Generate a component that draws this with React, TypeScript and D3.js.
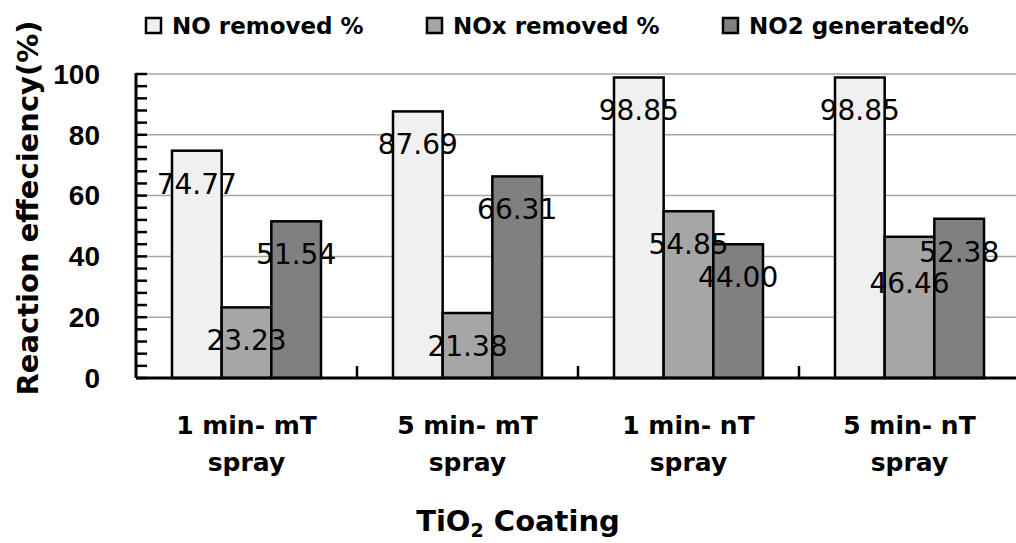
import React from "react";
import * as d3 from "d3";

// Coating treatments along the x axis (two lines per label)
const categories = ["1 min- mT|spray", "5 min- mT|spray", "1 min- nT|spray", "5 min- nT|spray"];
const seriesNames = ["NO removed %", "NOx removed %", "NO2 generated%"];
const noRemoved = [74.77, 87.69, 98.85, 98.85];
const noxRemoved = [23.23, 21.38, 54.85, 46.46];
const no2Generated = [51.54, 66.31, 44.0, 52.38];
const yTicks = [0, 20, 40, 60, 80, 100];

const seriesValues = [noRemoved, noxRemoved, no2Generated];
const fills = ["#f0f0f0", "#a6a6a6", "#808080"];

const W = 1016;
const H = 543;
const left = 136;
const right = 1020;
const top = 74;
const bottom = 378;

export default function App() {
  const x0 = d3.scaleBand<string>().domain(categories).range([left, right]).padding(0);
  const x1 = d3
    .scaleBand<string>()
    .domain(seriesNames)
    .range([36, x0.bandwidth() - 36])
    .padding(0);
  const y = d3.scaleLinear().domain([0, 100]).range([bottom, top]);
  const minorTicks = d3.range(0, 100.01, 4);

  // value labels: inside bar, below the top; nudge down when neighbours collide
  const labels: { x: number; y: number; text: string; v: number }[][] = categories.map((c, ci) =>
    seriesNames.map((s, si) => {
      const v = seriesValues[si][ci];
      return {
        x: (x0(c) as number) + (x1(s) as number) + x1.bandwidth() / 2,
        y: y(v) + 43,
        text: v.toFixed(2),
        v,
      };
    })
  );
  labels.forEach((g) => {
    for (let i = 0; i < g.length - 1; i++) {
      const a = g[i];
      const b = g[i + 1];
      if (Math.abs(a.y - b.y) < 28) {
        if (a.v < b.v) a.y = b.y + 31;
        else b.y = a.y + 31;
      }
    }
  });

  const legendX = [146, 427, 723];

  return (
    <svg width={W} height={H} style={{ display: "block", position: "absolute", left: 0, top: 0 }}>
      <rect x={0} y={0} width={W} height={H} fill="#ffffff" />
      {/* gridlines */}
      {yTicks.slice(1).map((t) => (
        <line key={t} x1={left} x2={W} y1={y(t)} y2={y(t)} stroke="#a6a6a6" strokeWidth={1.5} />
      ))}
      {/* bars */}
      {categories.map((c, ci) =>
        seriesNames.map((s, si) => {
          const v = seriesValues[si][ci];
          return (
            <rect
              key={c + s}
              x={(x0(c) as number) + (x1(s) as number)}
              y={y(v)}
              width={x1.bandwidth()}
              height={y(0) - y(v)}
              fill={fills[si]}
              stroke="#000"
              strokeWidth={2.5}
            />
          );
        })
      )}
      {/* y axis */}
      <line x1={left} x2={left} y1={top - 1} y2={bottom} stroke="#000" strokeWidth={3} />
      {minorTicks.map((t) => (
        <line key={t} x1={left} x2={left + 11} y1={y(t)} y2={y(t)} stroke="#000" strokeWidth={2.5} />
      ))}
      {yTicks.map((t) => (
        <text
          key={t}
          x={100}
          y={y(t)}
          dy="0.35em"
          textAnchor="end"
          fontFamily="Liberation Sans, Arial, sans-serif"
          fontWeight="bold"
          fontSize={28}
        >
          {t}
        </text>
      ))}
      {/* x axis */}
      <line x1={left} x2={W} y1={bottom} y2={bottom} stroke="#000" strokeWidth={3} />
      {categories.slice(1).map((c) => (
        <line key={c} x1={x0(c) as number} x2={x0(c) as number} y1={bottom} y2={bottom - 12} stroke="#000" strokeWidth={2.5} />
      ))}
      {categories.map((c) => {
        const [l1, l2] = c.split("|");
        const cx = (x0(c) as number) + x0.bandwidth() / 2;
        return (
          <text key={c} textAnchor="middle" fontFamily="DejaVu Sans, sans-serif" fontWeight="bold" fontSize={25}>
            <tspan x={cx} y={434}>{l1}</tspan>
            <tspan x={cx} y={471}>{l2}</tspan>
          </text>
        );
      })}
      {/* value labels */}
      {labels.flat().map((l, i) => (
        <text
          key={i}
          x={l.x}
          y={l.y}
          textAnchor="middle"
          fontFamily="DejaVu Sans, sans-serif"
          fontSize={28}
          fill="#000"
        >
          {l.text}
        </text>
      ))}
      {/* axis titles */}
      <text
        transform="translate(38,208) rotate(-90)"
        textAnchor="middle"
        fontFamily="DejaVu Sans, sans-serif"
        fontWeight="bold"
        fontSize={29}
      >
        Reaction effeciency(%)
      </text>
      <text x={518} y={531} textAnchor="middle" fontFamily="DejaVu Sans, sans-serif" fontWeight="bold" fontSize={29}>
        TiO
        <tspan fontSize={19} dy={6}>2</tspan>
        <tspan dy={-6}> Coating</tspan>
      </text>
      {/* legend */}
      {seriesNames.map((s, i) => (
        <g key={s}>
          <rect x={legendX[i]} y={18} width={15} height={15} fill={fills[i]} stroke="#000" strokeWidth={2.5} />
          <text x={legendX[i] + 26} y={34} fontFamily="DejaVu Sans, sans-serif" fontWeight="bold" fontSize={23}>
            {s}
          </text>
        </g>
      ))}
    </svg>
  );
}
